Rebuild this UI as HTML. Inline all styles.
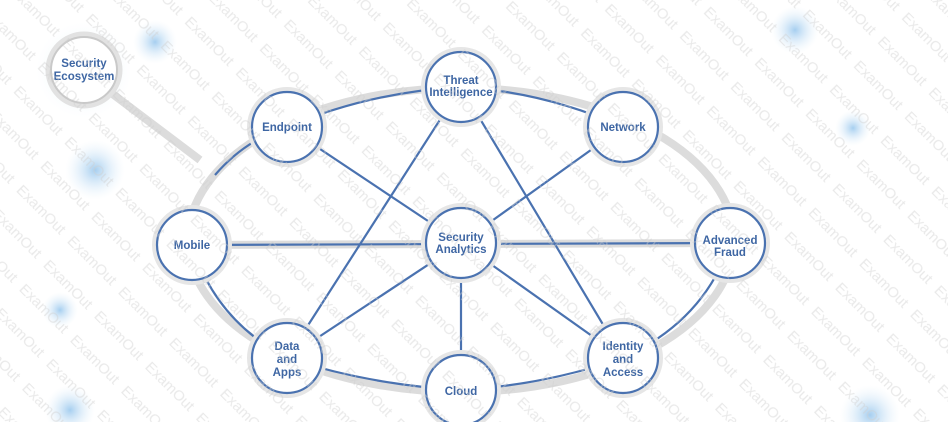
<!DOCTYPE html>
<html><head><style>
html,body{margin:0;background:#fff;width:948px;height:422px;overflow:hidden;}
svg{display:block;position:absolute;left:0;top:0;overflow:hidden;}
text{font-family:"Liberation Sans",sans-serif;font-weight:bold;fill:#3e66a3;font-size:11.5px;text-anchor:middle;}
.wm{fill:#cfcfcf;font-weight:normal;font-size:15px;text-anchor:start;}
</style></head><body>
<svg width="948" height="422" viewBox="0 0 948 422">
<defs>
<radialGradient id="g"><stop offset="0" stop-color="#9cc9ee" stop-opacity="0.9"/><stop offset="1" stop-color="#e4f1fb" stop-opacity="0"/></radialGradient>
<pattern id="wm" width="72" height="34" patternUnits="userSpaceOnUse" patternTransform="rotate(45)">
<text class="wm" x="2" y="22">ExamOut</text>
</pattern>
</defs>
<rect width="948" height="422" fill="#fff"/>
<circle cx="155" cy="42" r="22" fill="url(#g)"/>
<circle cx="95" cy="170" r="30" fill="url(#g)"/>
<circle cx="60" cy="310" r="18" fill="url(#g)"/>
<circle cx="795" cy="30" r="24" fill="url(#g)"/>
<circle cx="853" cy="128" r="18" fill="url(#g)"/>
<circle cx="70" cy="410" r="25" fill="url(#g)"/>
<circle cx="870" cy="415" r="30" fill="url(#g)"/>
<circle cx="84" cy="70" r="48" fill="url(#g)" opacity="0.5"/>
<g stroke="#dcdcdc" fill="none" stroke-width="8">
<ellipse cx="461" cy="240" rx="273" ry="152"/>
<line x1="110" y1="92" x2="200" y2="160"/>
<line x1="192" y1="245" x2="730" y2="243"/>
</g>
<g stroke="#4a72b0" fill="none" stroke-width="2.2">
<path d="M287 127 Q370 92 461 87"/>
<path d="M461 87 Q545 92 623 127"/>
<path d="M192 245 Q215 320 287 358"/>
<path d="M287 358 Q370 385 461 390"/>
<path d="M461 390 Q545 385 623 358"/>
<path d="M623 358 Q705 320 730 243"/>
<path d="M215 175 Q245 140 287 127"/>
<line x1="192" y1="245" x2="730" y2="243"/>
<line x1="461" y1="243" x2="287" y2="127"/>
<line x1="461" y1="243" x2="623" y2="127"/>
<line x1="461" y1="243" x2="287" y2="358"/>
<line x1="461" y1="243" x2="461" y2="390"/>
<line x1="461" y1="243" x2="623" y2="358"/>
<line x1="461" y1="87" x2="287" y2="358"/>
<line x1="461" y1="87" x2="623" y2="358"/>
</g>
<circle cx="84" cy="70" r="34" fill="#fff" stroke="#e2e2e2" stroke-width="9"/>
<circle cx="84" cy="70" r="33" fill="#fff" stroke="#c9c9c9" stroke-width="2"/>
<g fill="#fff">
<g stroke="#e6e6e6" stroke-width="10">
<circle cx="461" cy="87" r="35"/><circle cx="287" cy="127" r="35"/><circle cx="623" cy="127" r="35"/>
<circle cx="192" cy="245" r="35"/><circle cx="461" cy="243" r="35"/><circle cx="730" cy="243" r="35"/>
<circle cx="287" cy="358" r="35"/><circle cx="461" cy="390" r="35"/><circle cx="623" cy="358" r="35"/>
</g>
<g stroke="#4a72b0" stroke-width="2.2">
<circle cx="461" cy="87" r="35"/><circle cx="287" cy="127" r="35"/><circle cx="623" cy="127" r="35"/>
<circle cx="192" cy="245" r="35"/><circle cx="461" cy="243" r="35"/><circle cx="730" cy="243" r="35"/>
<circle cx="287" cy="358" r="35"/><circle cx="461" cy="390" r="35"/><circle cx="623" cy="358" r="35"/>
</g>
</g>
<text x="84" y="67">Security</text><text x="84" y="80">Ecosystem</text>
<text x="461" y="84">Threat</text><text x="461" y="96">Intelligence</text>
<text x="287" y="131">Endpoint</text>
<text x="623" y="131">Network</text>
<text x="192" y="249">Mobile</text>
<text x="461" y="241">Security</text><text x="461" y="253">Analytics</text>
<text x="730" y="244">Advanced</text><text x="730" y="256">Fraud</text>
<text x="287" y="350">Data</text><text x="287" y="363">and</text><text x="287" y="376">Apps</text>
<text x="461" y="395">Cloud</text>
<text x="623" y="350">Identity</text><text x="623" y="363">and</text><text x="623" y="376">Access</text>
<rect width="948" height="422" fill="url(#wm)" opacity="0.45"/>
</svg>
</body></html>
